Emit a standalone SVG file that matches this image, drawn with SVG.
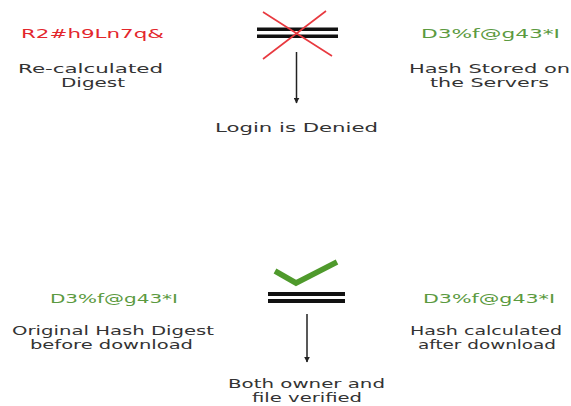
<svg xmlns="http://www.w3.org/2000/svg" width="571" height="406" viewBox="0 0 571 406">
  <style>
    text { font-family: "DejaVu Sans", "Liberation Sans", sans-serif; font-size: 13px; text-anchor: middle; }
    .lbl { fill: #333333; }
    .red { fill: #e3262c; }
    .grn { fill: #5b9a40; }
    .bar { fill: #111111; }
    .conn { stroke: #222222; stroke-width: 1.5; fill: none; }
  </style>
  <defs>
    <marker id="head" viewBox="0 0 10 10" refX="9" refY="5" markerWidth="4" markerHeight="4" orient="auto">
      <path d="M0,0 L10,5 L0,10 Z" fill="#222222"/>
    </marker>
  </defs>
  <rect width="571" height="406" fill="#ffffff"/>

  <!-- login check: recalculated digest vs stored hash -->
  <g id="recalculated-digest">
    <text class="red" x="92.5" y="37.5" textLength="143" lengthAdjust="spacingAndGlyphs">R2#h9Ln7q&amp;</text>
    <text class="lbl" x="90.5" y="72.5" textLength="145" lengthAdjust="spacingAndGlyphs">Re-calculated</text>
    <text class="lbl" x="93" y="87" textLength="64" lengthAdjust="spacingAndGlyphs">Digest</text>
  </g>
  <g id="stored-hash">
    <text class="grn" x="490.5" y="37.5" textLength="139" lengthAdjust="spacingAndGlyphs">D3%f@g43*I</text>
    <text class="lbl" x="489.5" y="72.5" textLength="161" lengthAdjust="spacingAndGlyphs">Hash Stored on</text>
    <text class="lbl" x="489.5" y="87" textLength="119" lengthAdjust="spacingAndGlyphs">the Servers</text>
  </g>
  <g id="not-equal">
    <rect class="bar" x="257" y="27.5" width="81" height="3.5"/>
    <rect class="bar" x="257" y="34.5" width="81" height="3.5"/>
    <path d="M263,12 L332,56 M326,11 L263,59" stroke="#e8393f" stroke-width="1.6" fill="none"/>
  </g>
  <g id="login-denied">
    <text class="lbl" x="296.5" y="132" textLength="163" lengthAdjust="spacingAndGlyphs">Login is Denied</text>
  </g>

  <!-- download check: original digest vs calculated hash -->
  <g id="original-digest">
    <text class="grn" x="114" y="303" textLength="128" lengthAdjust="spacingAndGlyphs">D3%f@g43*I</text>
    <text class="lbl" x="113" y="334.5" textLength="202" lengthAdjust="spacingAndGlyphs">Original Hash Digest</text>
    <text class="lbl" x="111.5" y="349" textLength="163" lengthAdjust="spacingAndGlyphs">before download</text>
  </g>
  <g id="calculated-hash">
    <text class="grn" x="489" y="303" textLength="132" lengthAdjust="spacingAndGlyphs">D3%f@g43*I</text>
    <text class="lbl" x="486" y="334.5" textLength="152" lengthAdjust="spacingAndGlyphs">Hash calculated</text>
    <text class="lbl" x="487" y="349" textLength="138" lengthAdjust="spacingAndGlyphs">after download</text>
  </g>
  <g id="equal">
    <rect class="bar" x="268" y="292" width="77" height="4"/>
    <rect class="bar" x="268" y="299" width="77" height="4"/>
    <path d="M275,271 L296,283 L337,262" stroke="#4f9a2c" stroke-width="5.5" fill="none" stroke-linejoin="miter"/>
  </g>
  <g id="verified">
    <text class="lbl" x="306.5" y="387.5" textLength="157" lengthAdjust="spacingAndGlyphs">Both owner and</text>
    <text class="lbl" x="307" y="402" textLength="110" lengthAdjust="spacingAndGlyphs">file verified</text>
  </g>

  <g id="connectors">
    <line class="conn" x1="296.5" y1="52" x2="296.5" y2="103" marker-end="url(#head)"/>
    <line class="conn" x1="307" y1="314" x2="307" y2="362" marker-end="url(#head)"/>
  </g>
</svg>
